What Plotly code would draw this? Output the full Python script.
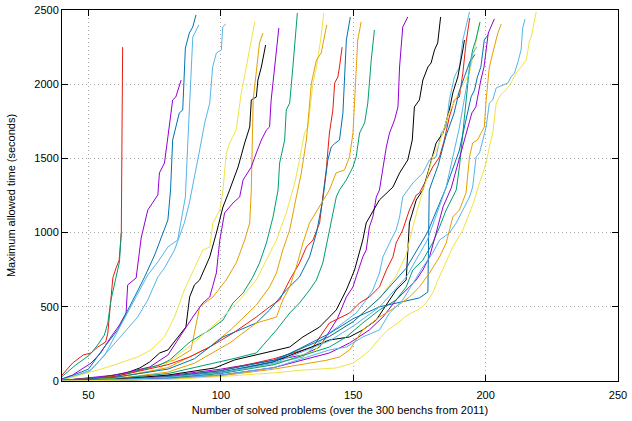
import plotly.graph_objects as go

# ---- colours (gnuplot default palette) ----
PURPLE = "#9400d3"; GREEN = "#009e73"; LBLUE = "#56b4e9"; ORANGE = "#e69f00"
YELLOW = "#f0e442"; DBLUE = "#0072b2"; RED = "#e51e10"; BLACK = "#000000"

# ---- data: number of solved problems (x) vs maximum allowed time (y) ----
red1_x = [40, 44, 48, 51, 53.5, 56.5, 57.3, 59.2, 60.4, 61.6, 62.4, 62.9]
red1_y = [40, 121, 175, 189, 229, 263, 323, 694, 761, 815, 1000, 2250]

green1_x = [40, 45.2, 50.4, 53.5, 56, 57.3, 58.5, 60.4, 61.7, 62.4]
green1_y = [30, 108, 175, 243, 310, 391, 546, 701, 802, 1000]

purple1_x = [40, 44, 51, 54.6, 58.5, 61.7, 64.2, 64.8, 68, 69, 69.9, 72.4, 76.2, 76.8, 78.7, 80, 81.8, 83, 84, 85]
purple1_y = [15, 40, 121, 189, 297, 377, 458, 647, 694, 849, 964, 1152, 1254, 1402, 1469, 1645, 1894, 1914, 1975, 2028]

dblue1_x = [40, 50, 56, 61, 67.4, 71.2, 75, 78, 80, 81, 81.8, 84.3, 85.6, 86.6, 88.1, 89.4, 90.6]
dblue1_y = [10, 80, 229, 344, 566, 701, 849, 997, 1085, 1287, 1624, 1806, 1826, 2244, 2345, 2386, 2467]

lblue1_x = [40, 50, 56, 59.8, 64.8, 68.6, 72.4, 76.2, 80, 83.7, 86.6, 87.5, 88.5, 89.4, 91.7]
lblue1_y = [8, 60, 170, 297, 458, 593, 714, 802, 903, 950, 1240, 1600, 2000, 2318, 2400]

lblue2_x = [40, 51, 61, 68.6, 72.4, 76.2, 78.7, 82.5, 86.2, 88.1, 92, 93.9, 95.8, 96.9, 98.3, 100.2, 100.7, 101.9]
lblue2_y = [5, 74, 276, 431, 546, 701, 761, 883, 1065, 1200, 1557, 1739, 1873, 2116, 2210, 2231, 2386, 2406]

yellow1_x = [40, 57.3, 68.6, 73.6, 78.7, 82.5, 86.2, 90, 93.2, 95.8, 97, 99.6, 100.8, 102, 103.3, 105.8, 107.7, 109.6, 110.9, 112.8]
yellow1_y = [5, 94, 162, 209, 297, 431, 613, 761, 883, 903, 1065, 1152, 1287, 1530, 1604, 1691, 1941, 2116, 2231, 2420]

black1_x = [40, 55, 64.3, 69.4, 73.1, 76.9, 80, 86.8, 88.2, 90, 92, 95.8, 98.3, 100.8, 103.3, 106.5, 109, 110.9, 111.5, 113.4, 114, 115.3, 116.9]
black1_y = [5, 25, 54, 88, 128, 189, 209, 364, 566, 647, 681, 836, 997, 1173, 1287, 1442, 1604, 1712, 1894, 1914, 2028, 2116, 2264]

orange1_x = [40, 60, 75, 82.5, 88.7, 92, 97, 102, 105.8, 109, 110.9, 111.5, 112.2, 114, 114.6, 115.9]
orange1_y = [3, 30, 100, 142, 209, 500, 566, 681, 795, 950, 1065, 1287, 1894, 2184, 2278, 2345]

purple2_x = [40, 60, 73.1, 76.9, 80, 89.4, 93.2, 95.8, 98.3, 99.6, 101.4, 104.6, 107.1, 108.4, 111.5, 113.4, 115.3, 117.2, 118.4, 119, 120.3, 121.9]
purple2_y = [3, 40, 94, 142, 175, 431, 526, 566, 728, 950, 1132, 1200, 1240, 1355, 1442, 1537, 1624, 1691, 1712, 1894, 2116, 2379]

green2_x = [40, 60, 76.9, 80.7, 88.5, 95.8, 100.8, 104.6, 108.4, 112.1, 114.6, 117.2, 119.7, 121.6, 122.2, 124.1, 124.7, 126, 127.2, 128.9]
green2_y = [3, 30, 108, 142, 266, 344, 411, 526, 593, 701, 795, 930, 1105, 1287, 1469, 1624, 1826, 1873, 2116, 2480]

yellow2_x = [40, 60, 76, 88, 100.8, 107.1, 113.4, 117.2, 121, 124.7, 127.2, 127.9, 129.7, 131.6, 132.9, 134.2, 134.8, 136.1, 137.7, 138.9]
yellow2_y = [2, 25, 74, 230, 431, 546, 681, 815, 950, 1132, 1287, 1334, 1489, 1671, 1712, 1894, 2008, 2116, 2298, 2480]

orange2_x = [40, 60, 80, 88, 95.8, 104, 113.4, 118.4, 121, 123.4, 126, 128.5, 130.4, 132.3, 133.5, 134.2, 136.1, 137.9, 140]
orange2_y = [2, 20, 90, 160, 230, 350, 512, 634, 728, 883, 1018, 1240, 1402, 1624, 1894, 2008, 2163, 2210, 2400]

red2_x = [40, 60, 80, 88.2, 95.8, 104.6, 113.4, 118.4, 122.2, 126, 129.7, 132.3, 134.8, 137.3, 138.5, 139.8, 141, 142.3, 143, 144.2, 144.8, 145.8]
red2_y = [3, 30, 110, 162, 229, 323, 431, 500, 546, 681, 795, 903, 950, 1065, 1240, 1422, 1671, 1826, 2008, 2049, 2116, 2250]

dblue2_x = [40, 60, 80, 90, 100.8, 113.4, 118.4, 124.7, 129.7, 133.5, 136.1, 138.5, 140.4, 141.7, 143, 144.8, 146.1, 147.4, 148.9]
dblue2_y = [3, 25, 80, 150, 297, 391, 479, 613, 701, 836, 997, 1220, 1489, 1577, 1600, 1624, 1806, 2298, 2453]

orange3_x = [40, 60, 80, 90, 103.3, 113.4, 121, 123.4, 126, 128.5, 131, 133.5, 141, 143.5, 146.7, 148.6, 149.9, 150.5, 151.1, 151.7, 153]
orange3_y = [2, 15, 60, 120, 256, 391, 431, 546, 634, 768, 930, 1065, 1287, 1402, 1422, 1510, 1671, 1894, 2116, 2298, 2420]

green3_x = [40, 60, 80, 95, 104.6, 113.4, 121, 126, 129.7, 133.5, 136.1, 138.5, 141, 143.6, 144.8, 147.4, 149.9, 151.1, 152.4, 154.3, 155.5, 156.8, 158]
green3_y = [2, 15, 50, 110, 150, 189, 344, 458, 526, 613, 681, 795, 1018, 1240, 1287, 1355, 1442, 1510, 1671, 1739, 1873, 2163, 2365]

purple3_x = [40, 60, 80, 100, 120, 131, 137.3, 141, 144, 147.4, 149.9, 151.1, 153.6, 154.9, 156.1, 157.4, 158.7, 159.9, 161.2, 162.5, 163.7, 165.6, 166.9, 167.5, 168.7, 170.6]
purple3_y = [2, 10, 35, 80, 140, 175, 229, 330, 420, 566, 634, 701, 836, 883, 1038, 1105, 1240, 1287, 1442, 1577, 1671, 1759, 1847, 2116, 2386, 2453]

black2_x = [40, 60, 80, 97.7, 105.2, 122.2, 126, 131, 137.3, 141, 143.6, 147.4, 150.5, 153.6, 154.9, 159.9, 162.5, 165, 167.5, 170.6, 172.3, 173.1, 175, 176.3, 178.2, 179.4, 180.7, 181.9, 183]
black2_y = [2, 10, 40, 88, 142, 209, 229, 297, 364, 431, 479, 613, 748, 950, 1065, 1220, 1267, 1307, 1402, 1489, 1624, 1847, 1894, 2028, 2116, 2143, 2231, 2278, 2453]

lblue3_x = [40, 60, 80, 100, 120, 131, 141, 146.1, 151.1, 154.9, 157.4, 159.9, 161.2, 163.7, 166.2, 167.5, 168.7, 170.6, 172.5, 176.3, 178.8, 181.3, 183.2, 185.1, 186.3, 188.2, 190.1, 191.4, 193.9]
lblue3_y = [2, 8, 25, 60, 120, 162, 323, 391, 458, 546, 613, 728, 836, 930, 1018, 1105, 1240, 1287, 1334, 1402, 1489, 1510, 1671, 1712, 1894, 2049, 2116, 2298, 2487]

red3_x = [40, 60, 80, 100, 120, 134.8, 141, 148.6, 152.4, 156.1, 159.9, 162.5, 165, 166.2, 168.7, 171.2, 173.8, 175, 177.6, 180, 182.6, 184.4, 186.3, 188.2, 190.1, 191.4, 192.6, 194]
red3_y = [2, 8, 30, 70, 150, 229, 391, 458, 526, 566, 634, 748, 836, 930, 1018, 1152, 1253, 1267, 1355, 1442, 1510, 1624, 1779, 1894, 1914, 2075, 2278, 2446]

black3_x = [40, 60, 80, 100, 120, 141, 148.6, 153.6, 158.7, 163.7, 166.2, 170, 171.2, 173.8, 176.3, 178.8, 181.3, 183.9, 186.3, 187.6, 189.5, 191.4, 192]
black3_y = [1, 5, 20, 55, 130, 276, 297, 344, 411, 546, 613, 681, 1065, 1220, 1287, 1442, 1604, 1671, 1826, 1941, 2049, 2231, 2298]

yellow3_x = [40, 60, 80, 100, 120, 135, 141, 150, 160, 166, 170, 172.5, 176.3, 177.6, 180, 182.6, 186, 190, 193.9, 195.8, 197.7]
yellow3_y = [1, 6, 25, 60, 110, 200, 300, 400, 560, 700, 850, 1038, 1287, 1355, 1510, 1604, 1800, 1950, 2075, 2231, 2413]

green4_x = [40, 60, 80, 100, 120, 141, 147.4, 153.6, 159.9, 166.2, 170, 172.5, 176.3, 180, 182.6, 185.1, 188.9, 190.1, 191.4, 192.6, 193.9, 195.1, 196.3, 197.9]
green4_y = [1, 5, 20, 50, 110, 229, 297, 391, 479, 546, 634, 748, 815, 930, 1038, 1152, 1287, 1442, 1671, 1894, 2116, 2231, 2298, 2420]

dblue3_x = [40, 60, 80, 100, 120, 141, 150, 160, 170, 178, 185, 190, 194.5, 195.8, 196.9, 198.2, 199.5, 200.9]
dblue3_y = [2, 8, 30, 70, 140, 300, 400, 560, 760, 1000, 1300, 1550, 1914, 1961, 2049, 2116, 2298, 2332]

dblue4_x = [40, 60, 80, 100, 120, 141, 150, 160, 170, 175, 178.2, 178.7, 182, 185, 188, 190, 192, 194, 196]
dblue4_y = [1, 6, 25, 60, 130, 320, 420, 500, 540, 560, 600, 1287, 1450, 1650, 1800, 1950, 2050, 2150, 2200]

lblue4_x = [40, 60, 80, 100, 120, 141, 150, 160, 170, 178, 185, 190, 193.9, 195.1, 196.7]
lblue4_y = [1, 6, 25, 55, 120, 270, 370, 500, 700, 950, 1300, 1700, 2100, 2210, 2251]

purple4_x = [40, 60, 80, 100, 120, 141, 148.6, 156.1, 161.2, 166.2, 171.2, 173.8, 176.3, 178.8, 181.3, 183.9, 187, 190, 193.9, 194.8, 196.3, 196.9, 198.2, 199.4, 200.1, 201, 203.3]
purple4_y = [1, 4, 15, 40, 90, 189, 256, 344, 431, 546, 634, 681, 748, 836, 997, 1173, 1300, 1500, 1759, 1806, 1847, 1914, 2028, 2116, 2210, 2345, 2440]

orange4_x = [40, 60, 80, 100, 120, 140, 144.8, 148.6, 153.6, 159.9, 166.2, 171.2, 175, 178.8, 182.6, 185.1, 187.6, 190.1, 192.6, 193.9, 195.1, 196.9, 198.2, 199.5, 200.2, 201.4, 202.7, 204.6, 205.9]
orange4_y = [1, 4, 12, 35, 80, 140, 162, 209, 344, 431, 500, 566, 634, 728, 836, 930, 1105, 1152, 1267, 1510, 1604, 1624, 1671, 1712, 1894, 2116, 2210, 2345, 2405]

lblue5_x = [40, 60, 80, 100, 120, 141, 147.4, 153.6, 159.9, 163.7, 168.7, 172.5, 176.3, 180, 182.6, 186.3, 188.9, 191.4, 193.9, 195.1, 196.4, 197.7, 198.9, 200.2, 201.4, 202.7, 204, 206.4, 208.4, 209.6, 210.9, 212.1, 213.4, 214, 214.9]
lblue5_y = [1, 4, 15, 40, 90, 209, 229, 297, 344, 458, 546, 660, 768, 862, 950, 997, 1065, 1152, 1240, 1307, 1510, 1537, 1624, 1712, 1873, 1894, 1975, 1995, 2008, 2049, 2075, 2143, 2231, 2379, 2440]

yellow4_x = [40, 60, 80, 100, 120, 131, 143.6, 149.8, 153, 156.1, 158.1, 160.6, 163.1, 166.9, 169.4, 171.9, 174.4, 176.9, 180, 182, 187.6, 191.4, 193.9, 195.8, 197.7, 198.9, 200.2, 201.4, 202.7, 204, 205.2, 206.4, 207.7, 209.6, 211.5, 213.4, 215.3, 216, 216.6, 217.2, 219.1]
yellow4_y = [0, 3, 10, 30, 55, 74, 88, 120, 160, 205, 250, 300, 344, 391, 431, 458, 479, 512, 593, 681, 903, 1018, 1132, 1220, 1334, 1402, 1469, 1577, 1671, 1873, 1914, 1941, 1961, 2008, 2075, 2116, 2163, 2231, 2298, 2318, 2487]

x_ticks = [50, 100, 150, 200, 250]
y_ticks = [0, 500, 1000, 1500, 2000, 2500]
x_title = "Number of solved problems (over the 300 benchs from 2011)"
y_title = "Maximum allowed time (seconds)"

series = [
    (red1_x, red1_y, RED), (green1_x, green1_y, GREEN), (purple1_x, purple1_y, PURPLE),
    (dblue1_x, dblue1_y, DBLUE), (lblue1_x, lblue1_y, LBLUE), (lblue2_x, lblue2_y, LBLUE),
    (yellow1_x, yellow1_y, YELLOW), (black1_x, black1_y, BLACK), (orange1_x, orange1_y, ORANGE),
    (purple2_x, purple2_y, PURPLE), (green2_x, green2_y, GREEN), (yellow2_x, yellow2_y, YELLOW),
    (orange2_x, orange2_y, ORANGE), (red2_x, red2_y, RED), (dblue2_x, dblue2_y, DBLUE),
    (orange3_x, orange3_y, ORANGE), (green3_x, green3_y, GREEN), (purple3_x, purple3_y, PURPLE),
    (black2_x, black2_y, BLACK), (lblue3_x, lblue3_y, LBLUE), (red3_x, red3_y, RED),
    (black3_x, black3_y, BLACK), (yellow3_x, yellow3_y, YELLOW), (green4_x, green4_y, GREEN),
    (dblue3_x, dblue3_y, DBLUE), (dblue4_x, dblue4_y, DBLUE), (lblue4_x, lblue4_y, LBLUE),
    (purple4_x, purple4_y, PURPLE), (orange4_x, orange4_y, ORANGE),
    (lblue5_x, lblue5_y, LBLUE), (yellow4_x, yellow4_y, YELLOW),
]

fig = go.Figure()
for xs, ys, col in series:
    fig.add_trace(go.Scatter(x=xs, y=ys, mode="lines", line=dict(color=col, width=1),
                             showlegend=False, hoverinfo="skip"))

FONT = dict(family="Liberation Sans, Arial", size=11, color="black")
axis_common = dict(
    showline=True, linecolor="black", linewidth=1, mirror="ticks",
    ticks="inside", ticklen=6, tickcolor="black", tickwidth=1,
    showgrid=True, gridcolor="#a8a8a8", gridwidth=1, griddash="1px,3px",
    zeroline=False, tickfont=FONT, automargin=False,
)
fig.update_xaxes(range=[40, 250], tickvals=x_ticks, ticklabelstandoff=4,
                 title=dict(text=x_title, font=FONT, standoff=6), **axis_common)
fig.update_yaxes(range=[0, 2500], tickvals=y_ticks,
                 title=dict(text=y_title, font=FONT, standoff=16), **axis_common)
fig.update_layout(width=632, height=421, margin=dict(l=62, r=14, t=10, b=40),
                  plot_bgcolor="white", paper_bgcolor="white")
fig.write_html("out.html")
